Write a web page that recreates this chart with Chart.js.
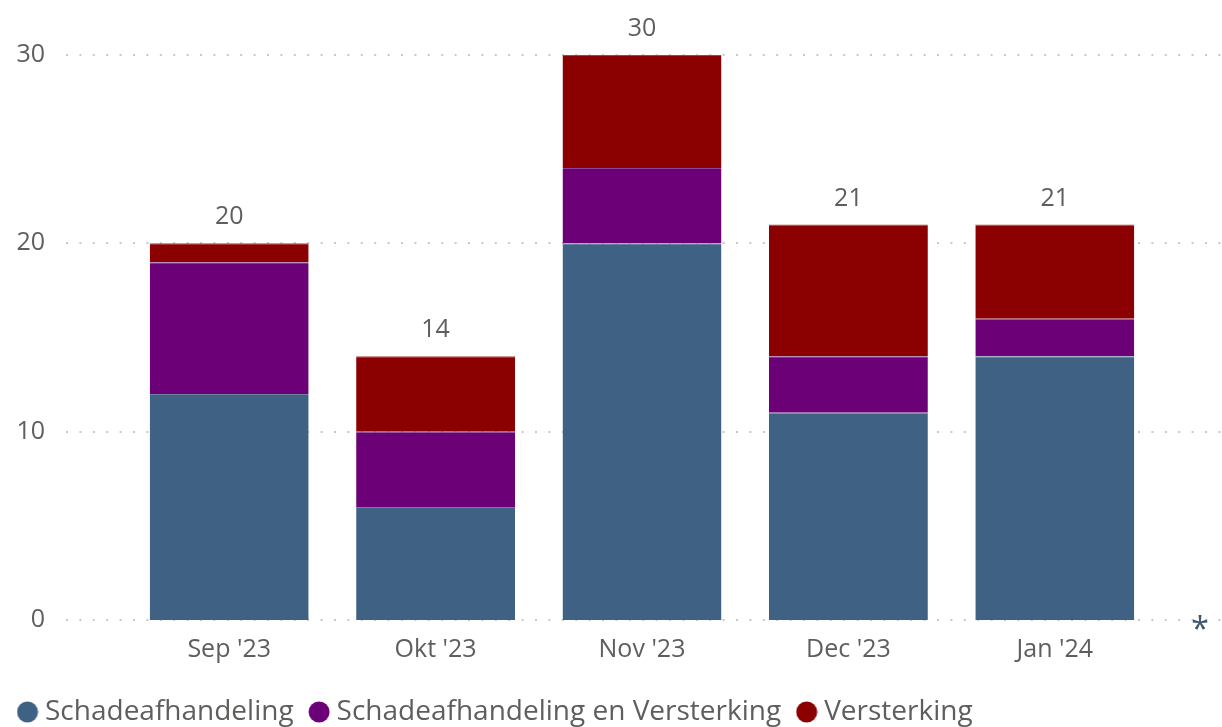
<!DOCTYPE html>
<html>
<head>
<meta charset="utf-8">
<script src="https://cdn.jsdelivr.net/npm/chart.js@4/dist/chart.umd.min.js"></script>
<style>
  html, body { margin: 0; padding: 0; background: #fff; }
  #wrap { width: 1222px; height: 727px; }
</style>
</head>
<body>
<div id="wrap"><canvas id="bar" width="1222" height="727"></canvas></div>
<script>
// data
var months = ["Sep '23", "Okt '23", "Nov '23", "Dec '23", "Jan '24"];
var schade = [12, 6, 20, 11, 14];
var schadeEnVersterking = [7, 4, 4, 3, 2];
var versterking = [1, 4, 6, 7, 5];
var yTicks = [0, 10, 20, 30];

var colors = ['#3F6184', '#6B0077', '#8B0000'];
var edges = ['#6A84A0', '#8E4499', '#A84040']; // faint lighter line on top of each segment
var FONT = "'Segoe UI', 'Open Sans', 'Noto Sans', sans-serif";
var GREY = '#605E5C';

// small round legend marker (canvas so the gap to the text stays tight)
function dot(color) {
    var c = document.createElement('canvas');
    c.width = 22; c.height = 22;
    var g = c.getContext('2d');
    g.fillStyle = color;
    g.beginPath();
    g.arc(11, 11, 10.5, 0, Math.PI * 2);
    g.fill();
    return c;
}

// dotted gridlines over the full width, like Power BI
var dottedGrid = {
    id: 'dottedGrid',
    beforeDatasetsDraw: function(chart) {
        var ctx = chart.ctx, y = chart.scales.y;
        ctx.save();
        ctx.strokeStyle = '#c8c8c8';
        ctx.lineWidth = 2;
        ctx.setLineDash([2, 11.4]);
        yTicks.forEach(function(v) {
            var py = Math.round(y.getPixelForValue(v));
            ctx.beginPath();
            ctx.moveTo(66, py);
            ctx.lineTo(chart.width, py);
            ctx.stroke();
        });
        ctx.restore();
    }
};

// totals above each stack + the little asterisk
var totals = {
    id: 'totals',
    afterDatasetsDraw: function(chart) {
        var ctx = chart.ctx, x = chart.scales.x, y = chart.scales.y;
        ctx.save();
        ctx.font = '25px ' + FONT;
        ctx.fillStyle = GREY;
        ctx.textAlign = 'center';
        ctx.textBaseline = 'middle';
        months.forEach(function(m, i) {
            var sum = schade[i] + schadeEnVersterking[i] + versterking[i];
            ctx.fillText(sum, x.getPixelForValue(i), y.getPixelForValue(sum) - 26);
        });
        ctx.font = '32px ' + FONT;
        ctx.fillStyle = '#3F5670';
        ctx.fillText('*', chart.chartArea.right + 42, chart.chartArea.bottom + 11);
        ctx.restore();
    }
};

var ctx = document.getElementById('bar').getContext('2d');
var myChart = new Chart(ctx, {
    type: 'bar',
    data: {
        labels: months,
        datasets: [
            { label: 'Schadeafhandeling', data: schade, backgroundColor: colors[0], borderColor: edges[0] },
            { label: 'Schadeafhandeling en Versterking', data: schadeEnVersterking, backgroundColor: colors[1], borderColor: edges[1] },
            { label: 'Versterking', data: versterking, backgroundColor: colors[2], borderColor: edges[2] }
        ]
    },
    options: {
        responsive: false,
        animation: false,
        layout: { padding: { top: 55, right: 64, left: 2, bottom: -9 } },
        datasets: {
            bar: {
                categoryPercentage: 1,
                barPercentage: 0.77,
                borderWidth: { top: 1, left: 0, right: 0, bottom: 0 },
                borderSkipped: false
            }
        },
        scales: {
            x: {
                stacked: true,
                afterFit: function(scale) { scale.height = 56; },
                grid: { display: false, drawTicks: false },
                border: { display: false },
                ticks: { color: GREY, font: { family: FONT, size: 25 }, padding: 15 }
            },
            y: {
                stacked: true,
                min: 0,
                max: 30,
                afterFit: function(scale) {
                    // tick padding would otherwise also be added above/below the axis
                    scale.width = 124;
                    scale.paddingTop = 0;
                    scale.paddingBottom = 0;
                },
                afterBuildTicks: function(scale) {
                    scale.ticks = yTicks.map(function(v) { return { value: v }; });
                },
                grid: { display: false, drawTicks: false },
                border: { display: false },
                ticks: { color: GREY, font: { family: FONT, size: 25 }, padding: 81 }
            }
        },
        plugins: {
            legend: {
                position: 'bottom',
                align: 'start',
                labels: {
                    color: GREY,
                    font: { family: FONT, size: 28 },
                    usePointStyle: true,
                    pointStyleWidth: 7,
                    padding: 22,
                    generateLabels: function(chart) {
                        var items = Chart.defaults.plugins.legend.labels.generateLabels(chart);
                        items.forEach(function(it, i) { it.pointStyle = dot(colors[i]); });
                        return items;
                    }
                }
            },
            tooltip: { enabled: false }
        }
    },
    plugins: [dottedGrid, totals]
});
</script>
</body>
</html>
